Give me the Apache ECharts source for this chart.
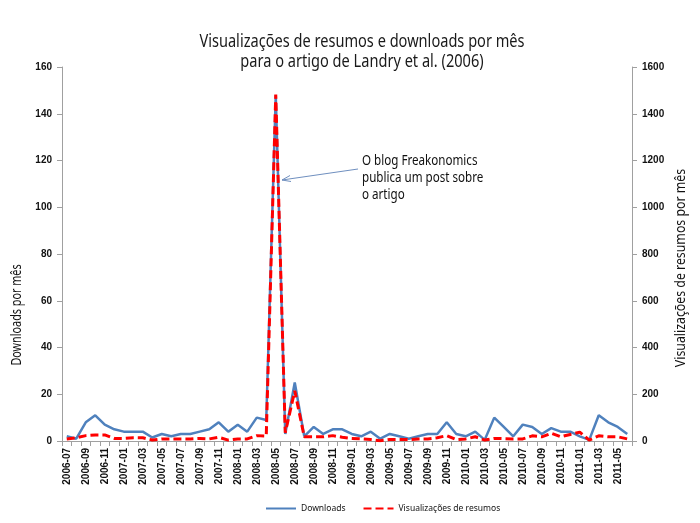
<!DOCTYPE html>
<html>
<head>
<meta charset="utf-8">
<script src="https://cdn.jsdelivr.net/npm/echarts@6/dist/echarts.min.js"></script>
<style>html,body{margin:0;padding:0;background:#fff;}#c{width:700px;height:523px;}</style>
</head>
<body>
<div id="c"></div>
<script>
var months = [];
(function(){ for (var y = 2006; y <= 2011; y++) for (var m = 1; m <= 12; m++) { if ((y === 2006 && m < 7) || (y === 2011 && m > 6)) continue; months.push(y + '-' + (m < 10 ? '0' + m : m)); } })();

var downloads = [2, 1, 8, 11, 7, 5, 4, 4, 4, 1.5, 3, 2, 3, 3, 4, 5, 8, 4, 7, 4,
                 10, 9, 148, 3, 25, 2, 6, 3, 5, 5, 3, 2, 4, 1, 3, 2, 1, 2, 3, 3,
                 8, 3, 2, 4, 0.5, 10, 6, 2, 7, 6, 3, 5.5, 4, 4, 2, 0.5, 11, 8, 6, 3];
var views = [9, 14, 23, 26, 26, 11, 11, 14, 14, 4, 9, 9, 9, 9, 11, 9, 16, 4, 9, 9,
             23, 21, 1482, 35, 215, 18, 18, 18, 23, 16, 11, 9, 6, 1, 6, 6, 6, 9, 9, 14,
             23, 6, 9, 18, 4, 11, 10, 9, 9, 22, 18, 33, 18, 28, 38, 4, 22, 18, 18, 9];

var titleLines = ['Visualizações de resumos e downloads por mês', 'para o artigo de Landry et al. (2006)'];
var leftTitle = 'Downloads por mês';
var rightTitle = 'Visualizações de resumos por mês';
var noteText = 'O blog Freakonomics\npublica um post sobre\no artigo';

var sans = "'Liberation Sans Narrow', 'Noto Sans', 'Liberation Sans', sans-serif";
var tickFont = { fontFamily: "'Liberation Sans', Arial, sans-serif", fontWeight: 'bold', fontSize: 10, color: '#111' };

var chart = echarts.init(document.getElementById('c'));
chart.setOption({
  animation: false,
  backgroundColor: '#fff',
  grid: { left: 62, right: 68, top: 67, bottom: 82 },
  legend: {
    bottom: 5, left: 260, itemWidth: 30, itemHeight: 10, itemGap: 17,
    itemStyle: { opacity: 0 },
    textStyle: { fontFamily: sans, fontSize: 8.5, color: '#111' },
    data: ['Downloads', 'Visualizações de resumos']
  },
  xAxis: {
    type: 'category', data: months, boundaryGap: true,
    axisLine: { lineStyle: { color: '#a0a0a0', width: 1 } },
    axisTick: { show: true, interval: 0, length: 5, lineStyle: { color: '#a0a0a0' } },
    axisLabel: Object.assign({ rotate: 90, interval: 1, margin: 7 }, tickFont),
    splitLine: { show: false }
  },
  yAxis: [
    { type: 'value', min: 0, max: 160, interval: 20,
      axisLine: { show: true, lineStyle: { color: '#a0a0a0' } },
      axisTick: { show: true, length: 5, lineStyle: { color: '#a0a0a0' } },
      axisLabel: Object.assign({ margin: 10, formatter: function (v) { return String(v); } }, tickFont),
      splitLine: { show: false } },
    { type: 'value', min: 0, max: 1600, interval: 200, position: 'right',
      axisLine: { show: true, lineStyle: { color: '#a0a0a0' } },
      axisTick: { show: true, length: 5, lineStyle: { color: '#a0a0a0' } },
      axisLabel: Object.assign({ margin: 10, formatter: function (v) { return String(v); } }, tickFont),
      splitLine: { show: false } }
  ],
  series: [
    { name: 'Downloads', type: 'line', data: downloads, yAxisIndex: 0, symbol: 'none',
      lineStyle: { color: '#4F81BD', width: 2.5 }, itemStyle: { color: '#4F81BD' } },
    { name: 'Visualizações de resumos', type: 'line', data: views, yAxisIndex: 1, symbol: 'none',
      lineStyle: { color: '#FF0000', width: 3, type: [8, 4] }, itemStyle: { color: '#FF0000' }, z: 3 }
  ],
  graphic: [
    { type: 'text', x: 362, y: 42, scaleX: 0.81,
      style: { text: titleLines[0], fontFamily: sans, fontSize: 18, fill: '#1a1a1a', textAlign: 'center', textVerticalAlign: 'middle' } },
    { type: 'text', x: 362, y: 62, scaleX: 0.81,
      style: { text: titleLines[1], fontFamily: sans, fontSize: 18, fill: '#1a1a1a', textAlign: 'center', textVerticalAlign: 'middle' } },
    { type: 'text', x: 17, y: 315, rotation: Math.PI / 2, scaleX: 0.8,
      style: { text: leftTitle, fontFamily: sans, fontSize: 13.5, fill: '#111', textAlign: 'center', textVerticalAlign: 'middle' } },
    { type: 'text', x: 681, y: 268, rotation: Math.PI / 2, scaleX: 0.88,
      style: { text: rightTitle, fontFamily: sans, fontSize: 14, fill: '#111', textAlign: 'center', textVerticalAlign: 'middle' } },
    { type: 'text', x: 362, y: 153, scaleX: 0.86,
      style: { text: noteText, fontFamily: sans, fontSize: 13.5, lineHeight: 17, fill: '#111', textAlign: 'left', textVerticalAlign: 'top' } },
    { type: 'line', shape: { x1: 358, y1: 169, x2: 282, y2: 180 }, style: { stroke: '#6f8fbf', lineWidth: 1 } },
    { type: 'polyline', shape: { points: [[290, 175.5], [282, 180], [291, 181.5]] }, style: { stroke: '#6f8fbf', lineWidth: 1, fill: null } }
  ]
});
</script>
</body>
</html>
